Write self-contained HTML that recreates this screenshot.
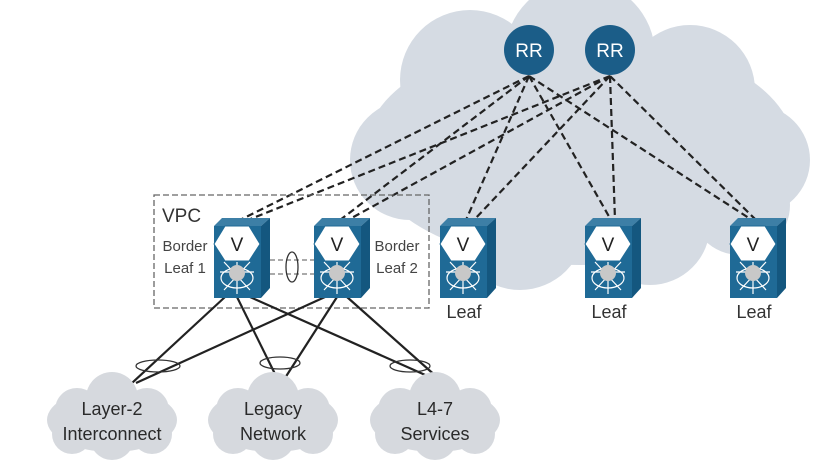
<!DOCTYPE html>
<html><head><style>body{margin:0;background:#fff}svg{display:block}</style></head><body>
<svg width="823" height="467" viewBox="0 0 823 467" xmlns="http://www.w3.org/2000/svg" font-family="Liberation Sans, sans-serif">
<defs>
<g id="sw">
<polygon points="0,8 8,0 56,0 47,8" fill="#3d7fa6"/>
<polygon points="47,8 56,0 56,70 47,80" fill="#14577f"/>
<rect x="0" y="8" width="47" height="72" fill="#1f6a96"/>
<g stroke="#fff" stroke-width="1.2" fill="none">
<line x1="6" y1="54" x2="40" y2="54"/><line x1="23" y1="44" x2="23" y2="76"/>
<line x1="10" y1="44" x2="36" y2="72"/><line x1="36" y1="44" x2="10" y2="72"/>
<ellipse cx="23" cy="60" rx="16" ry="10"/>
</g>
<circle cx="23" cy="55" r="8" fill="#c8c8c8"/>
<polygon points="11,8 35,8 46,26 35,43 11,43 0,26" fill="#fff" stroke="#1f6a96" stroke-width="1"/>
<text x="23" y="33" font-size="19" text-anchor="middle" fill="#222">V</text>
</g>
<g id="cl">
<ellipse cx="0" cy="0" rx="65" ry="32"/>
<circle cx="-35" cy="-10" r="22"/><circle cx="0" cy="-22" r="26"/><circle cx="35" cy="-10" r="22"/>
<circle cx="-40" cy="14" r="20"/><circle cx="0" cy="18" r="22"/><circle cx="40" cy="14" r="20"/>
</g>
</defs>
<g fill="#d5dbe3">
<ellipse cx="580" cy="150" rx="215" ry="115"/>
<circle cx="470" cy="80" r="70"/><circle cx="580" cy="55" r="75"/><circle cx="690" cy="90" r="65"/>
<circle cx="410" cy="160" r="60"/><circle cx="755" cy="160" r="55"/>
<circle cx="520" cy="225" r="65"/><circle cx="650" cy="225" r="60"/><circle cx="740" cy="205" r="50"/>
</g>
<g stroke="#222" stroke-width="2.2" stroke-dasharray="7,4" fill="none">
<line x1="529" y1="76" x2="240" y2="220"/><line x1="529" y1="76" x2="340" y2="220"/>
<line x1="529" y1="76" x2="466" y2="220"/><line x1="529" y1="76" x2="611" y2="220"/><line x1="529" y1="76" x2="752" y2="220"/>
<line x1="610" y1="76" x2="248" y2="220"/><line x1="610" y1="76" x2="348" y2="220"/>
<line x1="610" y1="76" x2="474" y2="220"/><line x1="610" y1="76" x2="615" y2="220"/><line x1="610" y1="76" x2="756" y2="220"/>
</g>
<circle cx="529" cy="50" r="25" fill="#1b5d88"/><circle cx="610" cy="50" r="25" fill="#1b5d88"/>
<text x="529" y="57" font-size="19" fill="#fff" text-anchor="middle">RR</text>
<text x="610" y="57" font-size="19" fill="#fff" text-anchor="middle">RR</text>
<rect x="154" y="195" width="275" height="113" fill="none" stroke="#666" stroke-width="1.3" stroke-dasharray="6,3"/>
<text x="162" y="222" font-size="19" fill="#333">VPC</text>
<text x="185" y="251" font-size="15" fill="#444" text-anchor="middle">Border</text>
<text x="185" y="273" font-size="15" fill="#444" text-anchor="middle">Leaf 1</text>
<text x="397" y="251" font-size="15" fill="#444" text-anchor="middle">Border</text>
<text x="397" y="273" font-size="15" fill="#444" text-anchor="middle">Leaf 2</text>
<g stroke="#777" stroke-width="1.3" stroke-dasharray="5,3"><line x1="270" y1="260" x2="314" y2="260"/><line x1="270" y1="274" x2="314" y2="274"/></g>
<ellipse cx="292" cy="267" rx="6" ry="15" fill="none" stroke="#333" stroke-width="1.3"/>
<g stroke="#222" stroke-width="2.2">
<line x1="225" y1="297" x2="132" y2="383"/><line x1="237" y1="297" x2="277" y2="378"/><line x1="250" y1="297" x2="432" y2="378"/>
<line x1="325" y1="297" x2="136" y2="383"/><line x1="337" y1="297" x2="285" y2="378"/><line x1="347" y1="297" x2="438" y2="378"/>
</g>
<g fill="none" stroke="#333" stroke-width="1.3">
<ellipse cx="158" cy="366" rx="22" ry="6"/><ellipse cx="280" cy="363" rx="20" ry="6"/><ellipse cx="410" cy="366" rx="20" ry="6"/>
</g>
<use href="#sw" x="214" y="218"/><use href="#sw" x="314" y="218"/>
<use href="#sw" x="440" y="218"/><use href="#sw" x="585" y="218"/><use href="#sw" x="730" y="218"/>
<g font-size="18" fill="#333" text-anchor="middle">
<text x="464" y="318">Leaf</text><text x="609" y="318">Leaf</text><text x="754" y="318">Leaf</text>
</g>
<g fill="#d6d9de">
<use href="#cl" x="112" y="420"/><use href="#cl" x="273" y="420"/><use href="#cl" x="435" y="420"/>
</g>
<g font-size="18" fill="#2a2a2a" text-anchor="middle">
<text x="112" y="415">Layer-2</text><text x="112" y="440">Interconnect</text>
<text x="273" y="415">Legacy</text><text x="273" y="440">Network</text>
<text x="435" y="415">L4-7</text><text x="435" y="440">Services</text>
</g>
</svg>
</body></html>
